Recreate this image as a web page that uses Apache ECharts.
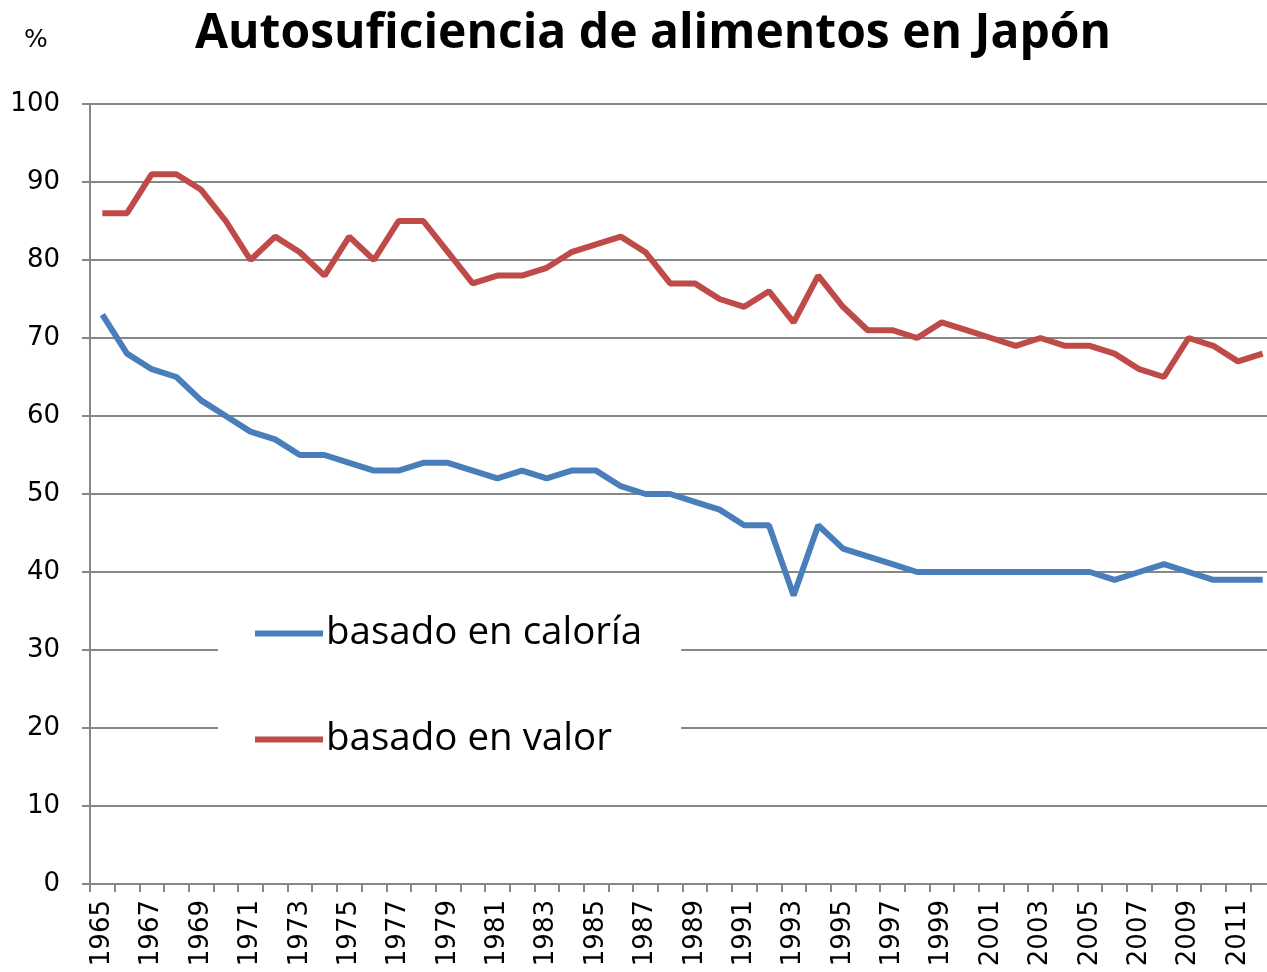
<!DOCTYPE html>
<html>
<head>
<meta charset="utf-8">
<script src="https://cdn.jsdelivr.net/npm/echarts@6/dist/echarts.min.js"></script>
<style>
  html, body { margin: 0; padding: 0; background: #fff; overflow: hidden; }
  #root { width: 1275px; height: 972px; }
</style>
</head>
<body>
<div id="root"></div>
<script>
// years on the x axis
const years = [];
for (let y = 1965; y <= 2012; y++) years.push(String(y));

// self-sufficiency, calorie based (%)
const caloria = [73, 68, 66, 65, 62, 60, 58, 57, 55, 55, 54, 53, 53, 54, 54, 53,
  52, 53, 52, 53, 53, 51, 50, 50, 49, 48, 46, 46, 37, 46, 43, 42,
  41, 40, 40, 40, 40, 40, 40, 40, 40, 39, 40, 41, 40, 39, 39, 39];

// self-sufficiency, value based (%)
const valor = [86, 86, 91, 91, 89, 85, 80, 83, 81, 78, 83, 80, 85, 85, 81, 77,
  78, 78, 79, 81, 82, 83, 81, 77, 77, 75, 74, 76, 72, 78, 74, 71,
  71, 70, 72, 71, 70, 69, 70, 69, 69, 68, 66, 65, 70, 69, 67, 68];

const seriesNames = ['basado en caloría', 'basado en valor'];

const font = 'DejaVu Sans';
const gridColor = '#878787';

const chart = echarts.init(document.getElementById('root'));

chart.setOption({
  animation: false,
  backgroundColor: '#fff',
  title: [{
    text: 'Autosuficiencia de alimentos en Japón',
    left: 648,
    textAlign: 'center',
    top: 5,
    textStyle: { fontFamily: 'Open Sans', fontWeight: 'bold', fontSize: 48, color: '#000' }
  }, {
    text: '%',
    left: 19,
    top: 23,
    textStyle: { fontFamily: font, fontWeight: 'normal', fontSize: 25, color: '#000' }
  }],
  legend: {
    data: seriesNames,
    orient: 'vertical',
    left: 218,
    top: 594,
    backgroundColor: '#fff',
    padding: [20, 39, 22, 37],
    icon: 'rect',
    itemWidth: 68,
    itemHeight: 6,
    itemGap: 67,
    textStyle: { fontFamily: 'Open Sans', fontSize: 38.5, color: '#000', padding: [0, 0, 0, -2] }
  },
  // the plot runs a little past the right edge of the window, as in the original
  grid: { left: 90, right: 0, top: 104, bottom: 88 },
  xAxis: {
    type: 'category',
    data: years,
    boundaryGap: true,
    axisLine: { lineStyle: { color: gridColor, width: 2 } },
    axisTick: { show: true, length: 8, interval: 0, lineStyle: { color: gridColor, width: 2 } },
    axisLabel: {
      interval: 1,
      rotate: 90,
      margin: 16,
      fontFamily: font,
      fontSize: 26,
      color: '#000'
    }
  },
  yAxis: {
    type: 'value',
    min: 0,
    max: 100,
    interval: 10,
    axisLine: { show: true, lineStyle: { color: gridColor, width: 2 } },
    axisTick: { show: true, length: 8, lineStyle: { color: gridColor, width: 2 } },
    axisLabel: { margin: 30, fontFamily: font, fontSize: 26, color: '#000' },
    splitLine: { lineStyle: { color: gridColor, width: 2 } }
  },
  series: [{
    name: seriesNames[0],
    type: 'line',
    data: caloria,
    showSymbol: false,
    symbol: 'none',
    color: '#4a7ebb',
    lineStyle: { width: 6, color: '#4a7ebb' },
    z: 3
  }, {
    name: seriesNames[1],
    type: 'line',
    data: valor,
    showSymbol: false,
    symbol: 'none',
    color: '#be4b48',
    lineStyle: { width: 6, color: '#be4b48' },
    z: 3
  }]
});
</script>
</body>
</html>
